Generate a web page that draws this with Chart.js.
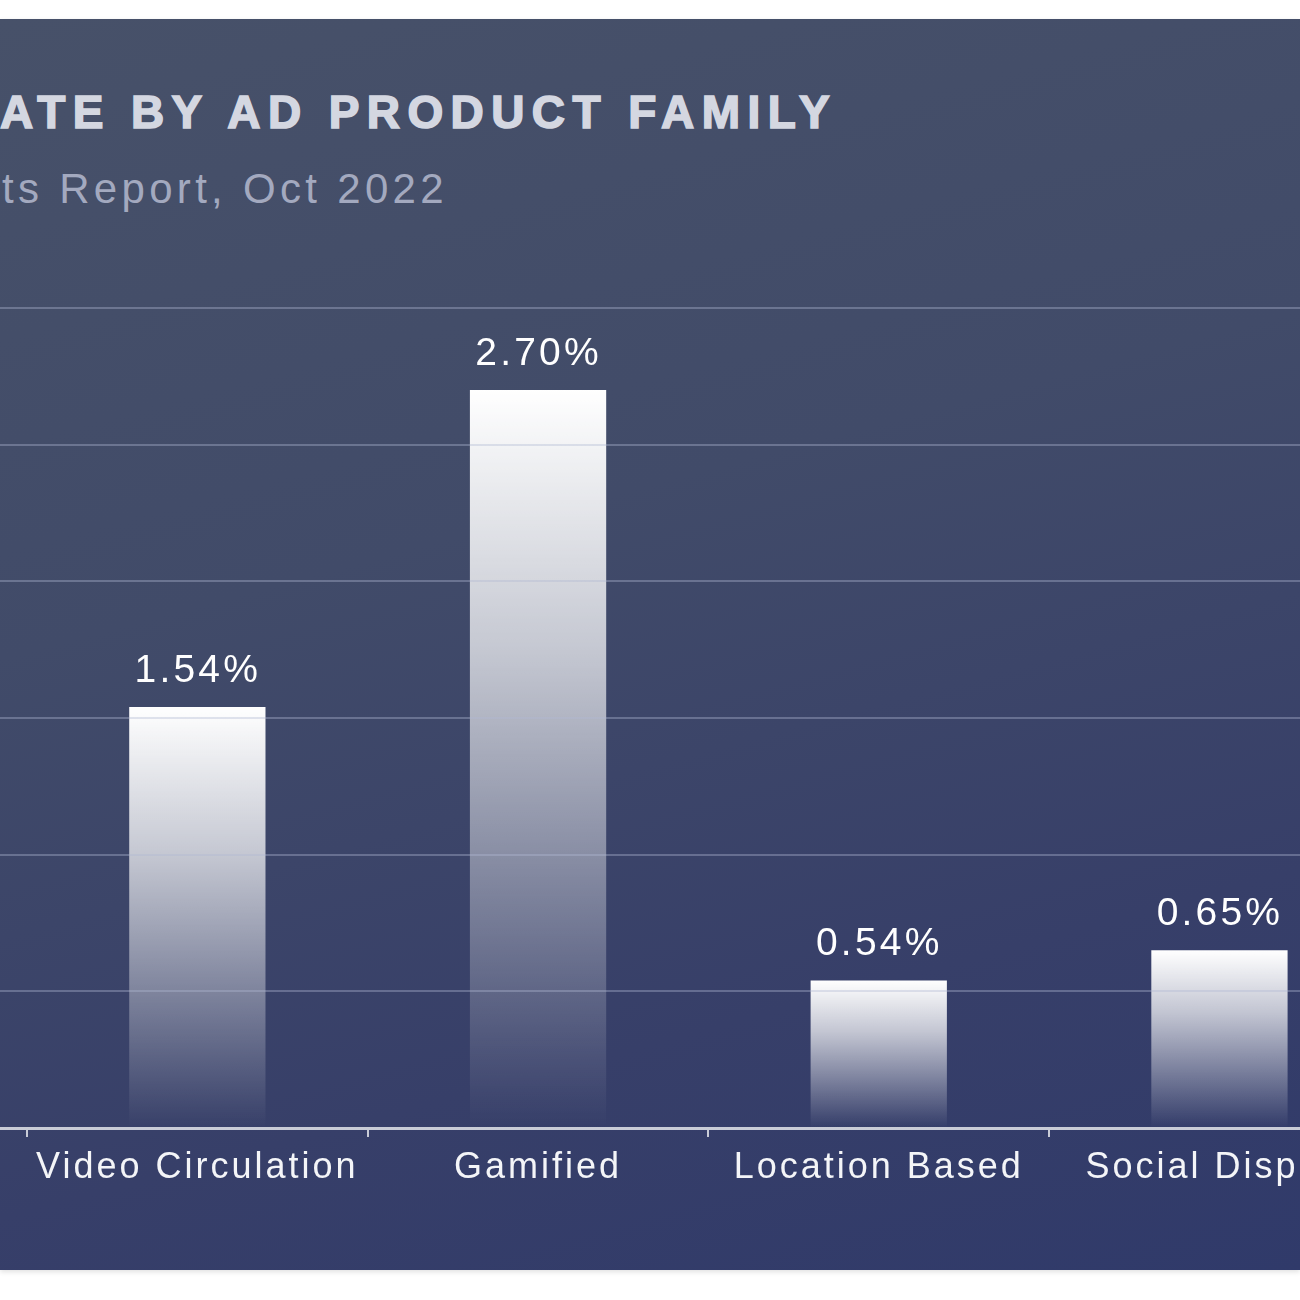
<!DOCTYPE html>
<html>
<head>
<meta charset="utf-8">
<script src="https://cdn.jsdelivr.net/npm/chart.js@4.4.1/dist/chart.umd.min.js"></script>
<style>
  html, body { margin: 0; padding: 0; width: 1300px; height: 1300px; overflow: hidden; background: #ffffff; }
  #panel {
    position: absolute; left: 0; top: 19px; width: 1300px; height: 1251px;
    background: linear-gradient(165deg, #475169 0%, #414b69 40%, #373f69 75%, #303a6a 100%);
    box-shadow: 0 2px 5px rgba(0,0,0,0.12);
    overflow: hidden;
  }
  .title {
    position: absolute; left: 0; top: 70px; white-space: nowrap;
    font-family: "Liberation Sans", Arial, sans-serif; font-weight: 700;
    font-size: 46px; line-height: 46px; letter-spacing: 7.4px;
    color: #d4d7e1; -webkit-text-stroke: 1.6px #d4d7e1;
  }
  .subtitle {
    position: absolute; left: 2px; top: 148.5px; white-space: nowrap;
    font-family: "Liberation Sans", Arial, sans-serif; font-weight: 400;
    font-size: 42px; line-height: 42px; letter-spacing: 4.3px;
    color: #a3a9bf;
  }
  #chart { position: absolute; left: -320px; top: 281px; }
</style>
</head>
<body>
<div id="panel">
  <div class="title">ATE BY AD PRODUCT FAMILY</div>
  <div class="subtitle">ts Report, Oct 2022</div>
  <canvas id="chart" width="1720" height="898"></canvas>
</div>
<script>
// Categories (first one lies outside the visible crop; its label and value are not visible)
const categories = ["", "Video Circulation", "Gamified", "Location Based", "Social Display"];
// Engagement rate values in percent
const rateValues = [null, 1.54, 2.70, 0.54, 0.65];
// Y axis tick values (gridlines)
const yTicks = [0, 0.5, 1.0, 1.5, 2.0, 2.5, 3.0];

const letterSpacingPlugin = {
  id: 'letterSpacing',
  beforeDraw(chart) { chart.ctx.letterSpacing = '3px'; }
};

const valueLabelPlugin = {
  id: 'valueLabels',
  afterDatasetsDraw(chart) {
    const ctx = chart.ctx;
    const meta = chart.getDatasetMeta(0);
    ctx.save();
    ctx.letterSpacing = '3.2px';
    ctx.font = '39px "Liberation Sans", Arial, sans-serif';
    ctx.fillStyle = '#ffffff';
    ctx.textAlign = 'center';
    ctx.textBaseline = 'alphabetic';
    meta.data.forEach((bar, i) => {
      const v = rateValues[i];
      if (v === null || v === undefined) return;
      ctx.fillText(v.toFixed(2) + '%', bar.x + 0.5, bar.y - 25);
    });
    ctx.restore();
  }
};

function barGradient(context) {
  const chart = context.chart;
  const v = context.raw;
  if (v === null || v === undefined || !chart.chartArea) return 'rgba(255,255,255,0.9)';
  const yScale = chart.scales.y;
  const top = yScale.getPixelForValue(v);
  const bottom = yScale.getPixelForValue(0);
  const g = chart.ctx.createLinearGradient(0, top, 0, bottom);
  g.addColorStop(0, 'rgba(255,255,255,1)');
  g.addColorStop(0.35, 'rgba(255,255,255,0.7)');
  g.addColorStop(1, 'rgba(255,255,255,0.0)');
  return g;
}

new Chart(document.getElementById('chart'), {
  type: 'bar',
  data: {
    labels: categories,
    datasets: [{
      data: rateValues,
      backgroundColor: barGradient,
      borderWidth: 0,
      barPercentage: 0.4,
      categoryPercentage: 1.0
    }]
  },
  options: {
    responsive: false,
    animation: false,
    layout: { padding: { left: 6.3, right: 10.2, top: 8, bottom: 0 } },
    plugins: { legend: { display: false }, tooltip: { enabled: false } },
    scales: {
      x: {
        afterFit(scale) { scale.height = 70; },
        grid: {
          offset: true,
          drawOnChartArea: false,
          drawTicks: true,
          tickLength: 9,
          color: '#c9ccd7',
          lineWidth: 2
        },
        border: { display: true, color: '#c9ccd7', width: 3 },
        ticks: {
          color: '#f4f5f8',
          padding: 9,
          maxRotation: 0,
          autoSkip: false,
          font: { family: '"Liberation Sans", Arial, sans-serif', size: 36 }
        }
      },
      y: {
        min: 0,
        max: 3,
        afterFit(scale) { scale.width = 0; },
        afterBuildTicks(scale) { scale.ticks = yTicks.map(v => ({ value: v })); },
        border: { display: false },
        grid: {
          z: 1,
          drawTicks: false,
          lineWidth: 2,
          color: (c) => (c.tick && c.tick.value === 0) ? 'rgba(0,0,0,0)' : 'rgba(175,183,210,0.38)'
        },
        ticks: { display: false }
      }
    }
  },
  plugins: [letterSpacingPlugin, valueLabelPlugin]
});
</script>
</body>
</html>
